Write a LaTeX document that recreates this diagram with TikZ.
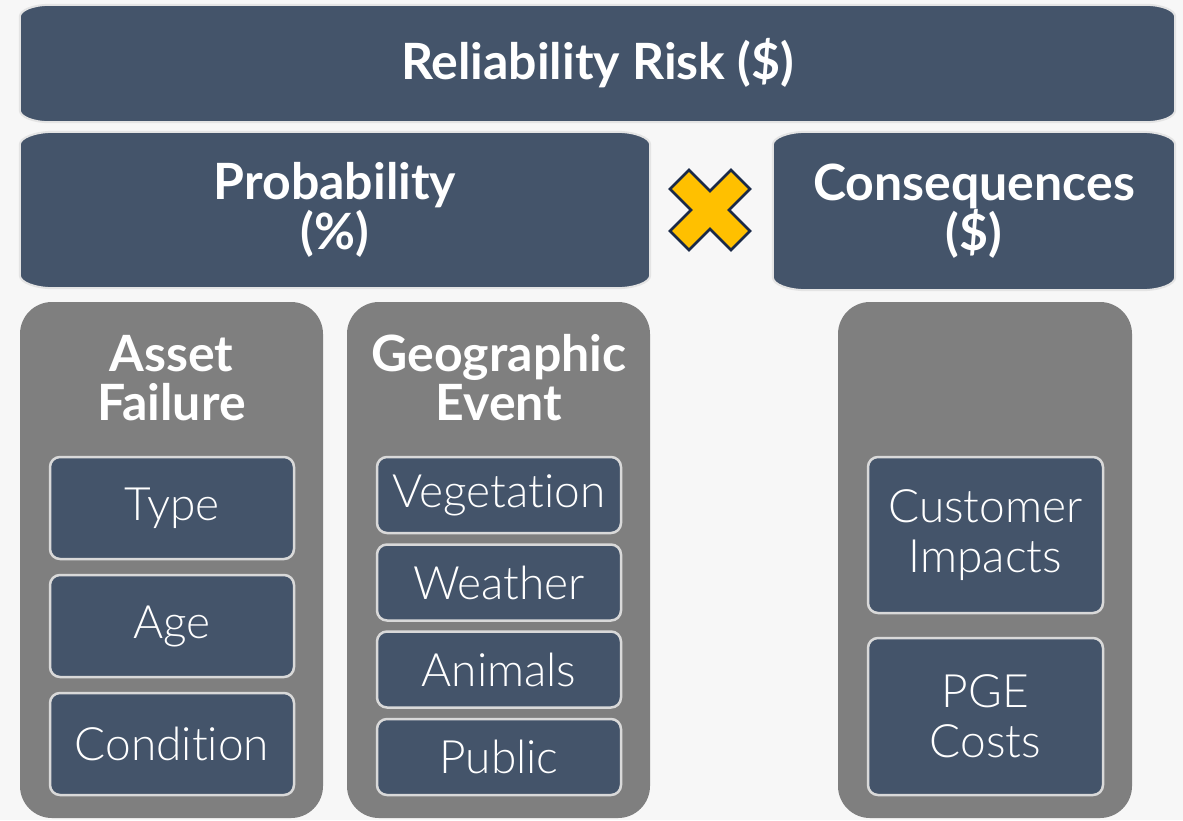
\documentclass[tikz,border=0pt]{standalone}
\usepackage{fontspec}
\setmainfont{Lato}[UprightFont=* Light, BoldFont=* Bold, Ligatures=NoCommon]
\usetikzlibrary{backgrounds}

\definecolor{slate}{HTML}{44546A}
\definecolor{panelgray}{HTML}{7F7F7F}
\definecolor{paper}{HTML}{F7F7F7}
\definecolor{rim}{HTML}{D9D9D9}
\definecolor{halo}{HTML}{E4E4E4}
\definecolor{gold}{HTML}{FFC000}
\definecolor{navy}{HTML}{1A2A48}

% banner with flat elliptical corners, drawn behind node #1
\newcommand{\bannerfill}[3]{%
	\fill[slate, draw=halo, line width=2pt]
		([xshift=#2]#1.north west) -- ([xshift=-#2]#1.north east)
		arc[start angle=90, end angle=0, x radius=#2, y radius=#3]
		-- ([yshift=#3]#1.south east)
		arc[start angle=0, end angle=-90, x radius=#2, y radius=#3]
		-- ([xshift=#2]#1.south west)
		arc[start angle=270, end angle=180, x radius=#2, y radius=#3]
		-- ([yshift=-#3]#1.north west)
		arc[start angle=180, end angle=90, x radius=#2, y radius=#3]
		-- cycle;}

\begin{document}
\begin{tikzpicture}[x=1pt, y=-1pt]
	\tikzstyle{every node} = [text=white, inner sep=0pt]
	\tikzstyle{banner} = [font=\bfseries\fontsize{50}{50}\selectfont, align=center]
	\tikzstyle{panel} = [fill=panelgray, rounded corners=32pt, minimum height=516pt]
	\tikzstyle{heading} = [font=\bfseries\fontsize{50}{49}\selectfont, align=center]
	\tikzstyle{item} = [fill=slate, draw=rim, line width=2.5pt, rounded corners=10pt, font=\fontsize{46}{50}\selectfont, align=center]
	\tikzstyle{timesmark} = [fill=gold, draw=navy, line width=2.5pt, line join=miter]

	\useasboundingbox (0,0) rectangle (1183,820);

	% top row
	\node[banner, minimum width=1155pt, minimum height=117pt] (risk) at (597.5, 63.5) {Reliability Risk (\$)};
	\node[banner, minimum width=630pt, minimum height=156pt] (prob) at (335, 210) {Probability\\(\%)};
	\node[banner, minimum width=402pt, minimum height=158pt] (cons) at (974, 211) {Consequences\\(\$)};
	\begin{pgfonlayer}{background}
		\fill[paper] (0,0) rectangle (1183,820);
		\bannerfill{risk}{30pt}{12pt}
		\bannerfill{prob}{34pt}{13pt}
		\bannerfill{cons}{34pt}{13pt}
	\end{pgfonlayer}

	\draw[timesmark, shift={(710,210)}] (0,-19) -- (21,-40) -- (40,-21) -- (19,0) -- (40,21) -- (21,40)
		-- (0,19) -- (-21,40) -- (-40,21) -- (-19,0) -- (-40,-21) -- (-21,-40) -- cycle;

	% panels
	\node[panel, minimum width=303pt] (asset) at (171.5, 560) {};
	\node[panel, minimum width=303pt] (geo) at (498.5, 560) {};
	\node[panel, minimum width=294pt] (cost) at (985, 560) {};
	\node[heading] (assettitle) at (171.5, 378) {Asset\\Failure};
	\node[heading] (geotitle) at (499, 378) {Geographic\\Event};

	% asset failure
	\node[item, minimum width=244pt, minimum height=102pt] (type) at (172, 508) {Type};
	\node[item, minimum width=244pt, minimum height=102pt] (age) at (172, 626) {Age};
	\node[item, minimum width=244pt, minimum height=102pt] (cond) at (172, 744) {Condition};

	% geographic event
	\node[item, minimum width=244pt, minimum height=76pt] (veg) at (499, 495) {Vegetation};
	\node[item, minimum width=244pt, minimum height=76pt] (weather) at (499, 582.5) {Weather};
	\node[item, minimum width=244pt, minimum height=76pt] (animals) at (499, 669.5) {Animals};
	\node[item, minimum width=244pt, minimum height=76pt] (public) at (499, 757) {Public};

	% consequences
	\node[item, minimum width=235pt, minimum height=156pt] (impacts) at (985.5, 535) {Customer\\Impacts};
	\node[item, minimum width=235pt, minimum height=157pt] (pge) at (985.5, 716.5) {PGE\\Costs};
\end{tikzpicture}
\end{document}
